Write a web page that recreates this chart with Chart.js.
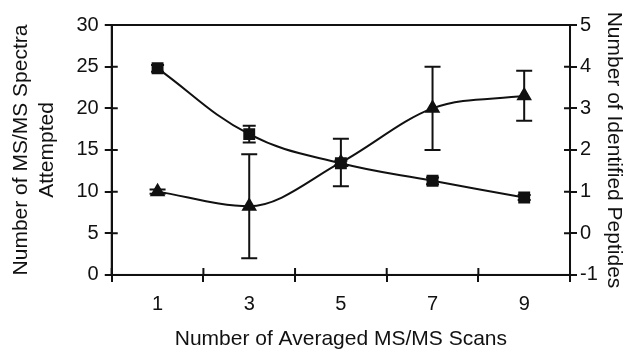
<!DOCTYPE html>
<html>
<head>
<meta charset="utf-8">
<script src="https://cdn.jsdelivr.net/npm/chart.js@4/dist/chart.umd.min.js"></script>
<style>
  html, body { margin: 0; padding: 0; background: #fff; }
  #wrap { width: 626px; height: 350px; }
</style>
</head>
<body>
<div id="wrap"><canvas id="chart"></canvas></div>
<script>
const SCANS = ['1', '3', '5', '7', '9'];

// left axis: spectra attempted (squares)
const spectra = [24.8, 16.9, 13.4, 11.3, 9.3];
const spectraErr = [0.4, 1.0, 0.3, 0.4, 0.3];

// right axis: identified peptides (triangles)
const peptides = [1.0, 0.65, 1.7, 3.0, 3.3];
const peptidesErr = [0.05, 1.25, 0.57, 1.0, 0.6];

const LEFT_TICKS = { min: 0, max: 30, step: 5 };
const RIGHT_TICKS = { min: -1, max: 5, step: 1 };

const FONT = 'Liberation Sans, Arial, sans-serif';
const INK = '#111';

const errorBars = {
  id: 'errorBars',
  afterDatasetsDraw(chart) {
    const ctx = chart.ctx;
    ctx.save();
    ctx.strokeStyle = INK;
    ctx.lineWidth = 2;
    chart.data.datasets.forEach((ds, i) => {
      const meta = chart.getDatasetMeta(i);
      const scale = chart.scales[ds.yAxisID];
      meta.data.forEach((pt, j) => {
        const e = ds.errors[j];
        if (!e) return;
        const top = scale.getPixelForValue(ds.data[j] + e);
        const bot = scale.getPixelForValue(ds.data[j] - e);
        const w = ds.capWidth / 2;
        ctx.beginPath();
        ctx.moveTo(pt.x, top);
        ctx.lineTo(pt.x, bot);
        ctx.moveTo(pt.x - w, top);
        ctx.lineTo(pt.x + w, top);
        ctx.moveTo(pt.x - w, bot);
        ctx.lineTo(pt.x + w, bot);
        ctx.stroke();
      });
    });
    ctx.restore();
  },
};

// box around the plot plus the inner half of each tick mark
const frame = {
  id: 'frame',
  afterDraw(chart) {
    const { ctx, chartArea: a, scales } = chart;
    ctx.save();
    ctx.strokeStyle = INK;
    ctx.lineWidth = 2;
    ctx.strokeRect(a.left, a.top, a.right - a.left, a.bottom - a.top);
    ctx.beginPath();
    scales.y.ticks.forEach((t, i) => {
      const y = scales.y.getPixelForTick(i);
      ctx.moveTo(a.left, y);
      ctx.lineTo(a.left + 6, y);
    });
    scales.y1.ticks.forEach((t, i) => {
      const y = scales.y1.getPixelForTick(i);
      ctx.moveTo(a.right - 6, y);
      ctx.lineTo(a.right, y);
    });
    for (let i = 0; i <= SCANS.length; i++) {
      const x = scales.x.getPixelForValue(i - 0.5);
      ctx.moveTo(x, a.bottom - 7);
      ctx.lineTo(x, a.bottom);
    }
    ctx.stroke();
    ctx.restore();
  },
};

const axisGrid = { drawOnChartArea: false, color: INK, lineWidth: 2, tickLength: 7 };
const axisBorder = { color: INK, width: 2 };

new Chart(document.getElementById('chart'), {
  type: 'line',
  data: {
    labels: SCANS,
    datasets: [
      {
        label: 'Spectra attempted',
        data: spectra,
        errors: spectraErr,
        capWidth: 13,
        yAxisID: 'y',
        borderColor: INK,
        backgroundColor: INK,
        borderWidth: 2,
        tension: 0.4,
        pointStyle: 'rect',
        pointRadius: 7,
        fill: false,
      },
      {
        label: 'Identified peptides',
        data: peptides,
        errors: peptidesErr,
        capWidth: 16,
        yAxisID: 'y1',
        borderColor: INK,
        backgroundColor: INK,
        borderWidth: 2,
        cubicInterpolationMode: 'monotone',
        pointStyle: 'triangle',
        pointRadius: 7,
        fill: false,
      },
    ],
  },
  options: {
    responsive: true,
    maintainAspectRatio: false,
    animation: false,
    layout: { padding: { top: 25, left: 8, right: 0, bottom: 0 } },
    plugins: { legend: { display: false }, tooltip: { enabled: false } },
    scales: {
      x: {
        offset: true,
        grid: { ...axisGrid, offset: true },
        border: axisBorder,
        ticks: { color: INK, padding: 11, font: { family: FONT, size: 20 } },
        title: {
          display: true,
          text: 'Number of Averaged MS/MS Scans',
          color: INK,
          font: { family: FONT, size: 21, lineHeight: 1.05 },
          padding: { top: 0, bottom: 0 },
        },
      },
      y: {
        position: 'left',
        min: LEFT_TICKS.min,
        max: LEFT_TICKS.max,
        grid: axisGrid,
        border: axisBorder,
        ticks: { stepSize: LEFT_TICKS.step, color: INK, padding: 6, font: { family: FONT, size: 20 } },
        title: {
          display: true,
          text: ['Number of MS/MS Spectra', 'Attempted'],
          color: INK,
          font: { family: FONT, size: 21, lineHeight: 1.25 },
          padding: { top: 0, bottom: 10 },
        },
      },
      y1: {
        position: 'right',
        min: RIGHT_TICKS.min,
        max: RIGHT_TICKS.max,
        grid: axisGrid,
        border: axisBorder,
        ticks: { stepSize: RIGHT_TICKS.step, color: INK, padding: 3, font: { family: FONT, size: 20 } },
        title: {
          display: true,
          text: 'Number of Identified Peptides',
          color: INK,
          font: { family: FONT, size: 21 },
          padding: { top: 0, bottom: 0 },
        },
      },
    },
  },
  plugins: [errorBars, frame],
});
</script>
</body>
</html>
